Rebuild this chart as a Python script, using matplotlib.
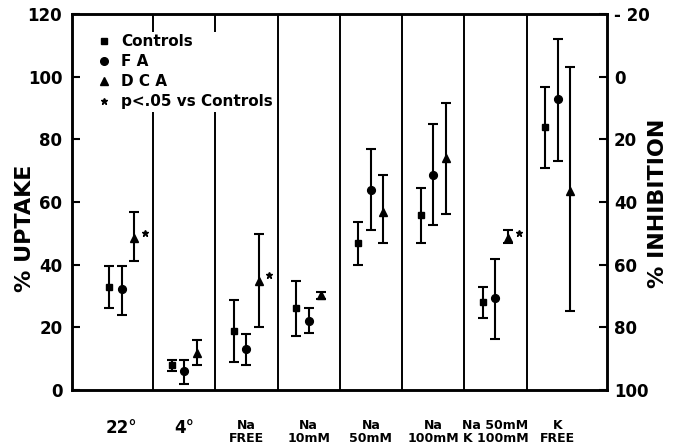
import matplotlib
matplotlib.use("Agg")
import matplotlib.pyplot as plt
from matplotlib.lines import Line2D
import numpy as np

plt.rcParams['font.family'] = ['DejaVu Sans']
plt.rcParams['font.weight'] = 'bold'

groups = ["22°", "4°", "Na\nFREE", "Na\n10mM", "Na\n50mM", "Na\n100mM", "Na 50mM\nK 100mM", "K\nFREE"]

# mean, lower bound, upper bound (% uptake)
controls_mean = [33.0, 8.0, 18.9, 26.1, 46.8, 55.9, 28.2, 83.8]
controls_low = [26.1, 5.9, 8.8, 17.3, 39.9, 46.8, 23.1, 71.0]
controls_high = [39.7, 9.6, 28.7, 34.9, 53.7, 64.6, 33.0, 96.8]

fa_mean = [32.1, 5.9, 13.0, 22.1, 63.8, 68.6, 29.3, 92.9]
fa_low = [23.8, 1.9, 8.0, 18.1, 50.9, 52.7, 16.3, 73.1]
fa_high = [39.7, 9.6, 17.8, 26.1, 76.8, 84.9, 41.7, 112.1]

dca_mean = [48.4, 11.7, 34.9, 30.2, 56.9, 73.9, 48.4, 63.6]
dca_low = [41.2, 8.0, 20.0, 28.9, 46.8, 56.1, 46.8, 25.3]
dca_high = [56.7, 16.0, 49.8, 31.4, 68.6, 91.5, 51.1, 103.0]

dca_significant = [True, False, True, False, False, False, True, False]

left_ticks = [0, 20, 40, 60, 80, 100, 120]
right_ticks = [-20, 0, 20, 40, 60, 80, 100]

fig = plt.figure(figsize=(6.81, 4.48), dpi=100)
ax = fig.add_axes([0.1057, 0.1295, 0.7856, 0.8393])

x = np.arange(len(groups))
offsets = [-0.2, 0.0, 0.2]
series = [
    (controls_mean, controls_low, controls_high, 's', 4.8),
    (fa_mean, fa_low, fa_high, 'o', 5.6),
    (dca_mean, dca_low, dca_high, '^', 5.8),
]
for (m, lo, hi, mk, ms), off in zip(series, offsets):
    m = np.array(m); lo = np.array(lo); hi = np.array(hi)
    ax.errorbar(x + off, m, yerr=[m - lo, hi - m], fmt=mk, color='black',
                markersize=ms, elinewidth=1.5, capsize=3.7, capthick=1.5, zorder=3)

dm = np.array(dca_mean)
sig = np.array(dca_significant)
ax.plot(x[sig] + 0.37, dm[sig] + 1.8, linestyle='none', marker='*',
        color='black', markersize=5, zorder=3)

for b in np.arange(len(groups) - 1) + 0.5:
    ax.axvline(b, color='black', lw=1.4, zorder=1)

ax.set_xlim(-0.8, len(groups) - 1 + 0.79)
ax.set_ylim(0, 120)
ax.set_yticks(left_ticks)
ax.tick_params(axis='y', direction='in', length=6, width=1.5, labelsize=12, pad=7)
ax.set_xticks(x)
ax.set_xticklabels(groups)
ax.tick_params(axis='x', length=0, pad=21)
for lbl in ax.get_xticklabels():
    txt = lbl.get_text()
    lbl.set_fontsize(12 if '\n' not in txt else 9)
    lbl.set_linespacing(1.0)
    lbl.set_verticalalignment('top')
for s in ax.spines.values():
    s.set_linewidth(1.8)
ax.set_ylabel('% UPTAKE', fontsize=16, fontweight='bold')
ax.yaxis.set_label_coords(-0.07, 0.43)

ax2 = ax.twinx()
ax2.set_ylim(100, -20)
ax2.set_yticks(right_ticks)
ax2.set_yticklabels(['- 20'] + [str(t) for t in right_ticks[1:]])
ax2.tick_params(axis='y', direction='in', length=6, width=1.5, labelsize=12, pad=5)
ax2.set_ylabel('% INHIBITION', fontsize=16, fontweight='bold')
ax2.yaxis.set_label_coords(1.077, 0.497)
for s in ax2.spines.values():
    s.set_linewidth(1.8)

handles = [
    Line2D([], [], linestyle='none', marker='s', color='black', markersize=5),
    Line2D([], [], linestyle='none', marker='o', color='black', markersize=5.5),
    Line2D([], [], linestyle='none', marker='^', color='black', markersize=5.5),
    Line2D([], [], linestyle='none', marker='*', color='black', markersize=5),
]
leg = ax2.legend(handles, ['Controls', 'F A', 'D C A', 'p<.05 vs Controls'],
                 loc='upper left', bbox_to_anchor=(0.045, 0.952), frameon=True,
                 fontsize=11, handlelength=0.8, handletextpad=0.7,
                 labelspacing=0.33, borderpad=0.15, borderaxespad=0)
leg.get_frame().set_edgecolor('none')
leg.get_frame().set_facecolor('white')
leg.get_frame().set_alpha(1)

fig.savefig('out.png', dpi=100)
